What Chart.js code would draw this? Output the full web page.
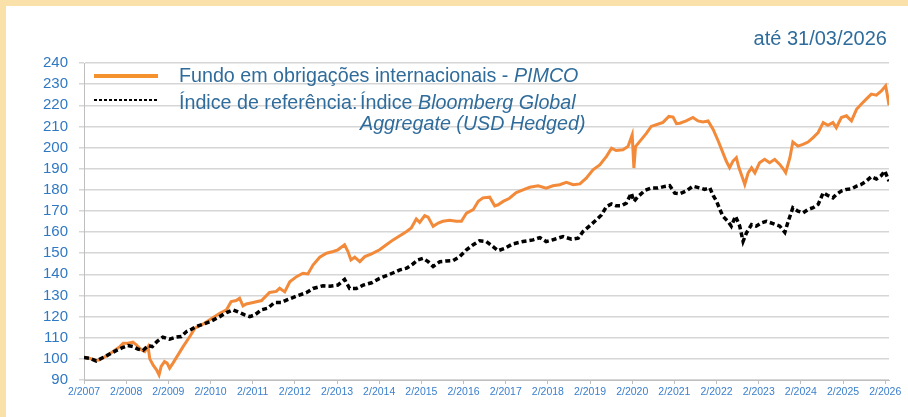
<!DOCTYPE html>
<html>
<head>
<meta charset="utf-8">
<script src="https://cdn.jsdelivr.net/npm/chart.js@4.4.1/dist/chart.umd.min.js"></script>
<style>
  body { margin: 0; width: 908px; height: 417px; background: #fae1aa; overflow: hidden; position: relative; font-family: Arial, "Liberation Sans", sans-serif; }
  #panel { position: absolute; left: 6px; top: 6px; right: 0; bottom: 0; background: #fff; }
  #chart { position: absolute; left: 0; top: 0; }
  .txt { position: absolute; color: #2f6c9b; font-size: 19.7px; line-height: 21px; white-space: nowrap; }
  #asof { right: 21px; top: 28px; font-size: 20px; }
  #sw1 { position: absolute; left: 94px; top: 74px; width: 64px; height: 4px; background: #f6922e; }
  #sw2 { position: absolute; left: 94px; top: 99px; width: 64px; height: 2px;
         background: repeating-linear-gradient(90deg, #000 0 3px, transparent 3px 5px); }
</style>
</head>
<body>
<div id="panel"></div>
<canvas id="chart" width="908" height="417"></canvas>
<div class="txt" id="asof">até 31/03/2026</div>
<div id="sw1"></div>
<div id="sw2"></div>
<div class="txt" style="left:179px; top:65px;">Fundo em obrigações internacionais - <i>PIMCO</i></div>
<div class="txt" style="left:179px; top:92px;">Índice de referência:</div>
<div class="txt" style="left:360px; top:92px;">Índice <i>Bloomberg Global</i><br><i>Aggregate (USD Hedged)</i></div>
<script>
// x = decimal year (2007.08 = 2/2007)
const fundDates = [
  2007.08, 2007.21, 2007.37, 2007.45, 2007.61, 2007.77, 2007.93,
  2008.01, 2008.12, 2008.24, 2008.32, 2008.44, 2008.52, 2008.60, 2008.64, 2008.72, 2008.80, 2008.86, 2008.91, 2008.99,
  2009.05, 2009.11, 2009.19, 2009.31, 2009.43, 2009.59, 2009.71, 2009.90,
  2010.08, 2010.30, 2010.46, 2010.57, 2010.69, 2010.77, 2010.85, 2010.93,
  2011.09, 2011.29, 2011.48, 2011.64, 2011.72, 2011.84, 2011.96,
  2012.12, 2012.27, 2012.39, 2012.51, 2012.67, 2012.83, 2012.99,
  2013.10, 2013.26, 2013.34, 2013.41, 2013.50, 2013.62, 2013.74, 2013.90,
  2014.09, 2014.25, 2014.41, 2014.57, 2014.73, 2014.84, 2014.96,
  2015.04, 2015.16, 2015.24, 2015.36, 2015.48, 2015.59, 2015.75, 2015.91,
  2016.03, 2016.15, 2016.31, 2016.43, 2016.54, 2016.70, 2016.82, 2016.90,
  2017.02, 2017.17, 2017.33, 2017.49, 2017.65, 2017.85,
  2018.04, 2018.20, 2018.36, 2018.52, 2018.68, 2018.84, 2018.99,
  2019.15, 2019.31, 2019.47, 2019.59, 2019.70, 2019.86, 2019.98,
  2020.08, 2020.12, 2020.16, 2020.26, 2020.42, 2020.53, 2020.65, 2020.81, 2020.95,
  2021.05, 2021.13, 2021.21, 2021.36, 2021.52, 2021.64, 2021.76, 2021.88,
  2022.00, 2022.12, 2022.23, 2022.31, 2022.39, 2022.47, 2022.55, 2022.61, 2022.71, 2022.75, 2022.83, 2022.91, 2022.99,
  2023.10, 2023.22, 2023.34, 2023.46, 2023.58, 2023.67, 2023.72, 2023.82, 2023.89,
  2024.01, 2024.13, 2024.25, 2024.37, 2024.49, 2024.61, 2024.72, 2024.84, 2024.92,
  2025.04, 2025.16, 2025.28, 2025.40, 2025.51, 2025.63, 2025.75, 2025.87, 2025.99,
  2026.09, 2026.12, 2026.17
]
const fundValues = [
  100.6, 100.3, 99.2, 99.5, 101.4, 103.5, 105.8,
  107.4, 107.4, 107.9, 106.6, 104.3, 103.5, 105.8, 100, 97, 94.8, 92.4, 96.4, 98.7,
  98, 95.6, 98, 101.9, 105.8, 110.6, 114.5, 116.4,
  118.8, 121.6, 123.2, 127.1, 127.6, 128.7, 125.1, 126,
  126.7, 127.6, 131.4, 131.9, 133.4, 131.7, 136.5,
  138.9, 140.5, 140.2, 144.4, 148.1, 150, 150.8,
  151.6, 154, 150.8, 146.8, 148.1, 146, 148.4, 149.7,
  151.6, 154, 156.3, 158.3, 160.3, 161.9, 166.2,
  164.6, 167.8, 167.1, 162.7, 164.3, 165.1, 165.6, 165.1,
  165.1, 169, 170.6, 174.6, 176.2, 176.5, 172.4, 172.9,
  174.5, 176, 178.7, 180, 181.2, 181.9,
  180.8, 181.9, 182.4, 183.5, 182.4, 182.8, 185.5,
  189.5, 191.8, 195.8, 199.7, 198.6, 198.9, 200.5,
  206, 190.3, 200.5, 202.9, 206.8, 210, 210.8, 211.9, 214.7,
  214.4, 211.3, 211.5, 212.6, 214.2, 212.6, 212.1, 212.6,
  208.6, 203.1, 197.6, 193.6, 190.5, 193.6, 195.2, 190.5, 184.9, 182.5, 188, 190.4, 188,
  192.8, 194.4, 192.8, 194.4, 192, 189.7, 188.1, 195.2, 202.6,
  200.7, 201.5, 202.6, 204.7, 207.1, 211.8, 210.5, 211.8, 209.4,
  214.2, 215, 212.6, 218.1, 220.5, 222.9, 225.3, 224.8, 226.8,
  229.2, 226, 220
]
const benchDates = [
  2007.08, 2007.21, 2007.37, 2007.61, 2007.85,
  2008.01, 2008.12, 2008.24, 2008.36, 2008.48, 2008.60, 2008.70, 2008.81, 2008.95,
  2009.11, 2009.27, 2009.39, 2009.51, 2009.63, 2009.74, 2009.90,
  2010.08, 2010.30, 2010.46, 2010.61, 2010.77, 2010.89,
  2011.01, 2011.13, 2011.29, 2011.44, 2011.60, 2011.76, 2011.88,
  2012.12, 2012.35, 2012.51, 2012.75, 2012.91,
  2013.10, 2013.26, 2013.38, 2013.54, 2013.70, 2013.90,
  2014.09, 2014.33, 2014.57, 2014.73, 2014.88,
  2015.00, 2015.12, 2015.24, 2015.36, 2015.52, 2015.67, 2015.83, 2015.99,
  2016.15, 2016.31, 2016.46, 2016.62, 2016.78, 2016.90,
  2017.06, 2017.25, 2017.49, 2017.73, 2017.89,
  2018.04, 2018.24, 2018.44, 2018.64, 2018.80, 2018.91,
  2019.07, 2019.23, 2019.35, 2019.47, 2019.59, 2019.70, 2019.82, 2019.94,
  2020.06, 2020.12, 2020.22, 2020.38, 2020.53, 2020.69, 2020.85, 2020.97,
  2021.09, 2021.21, 2021.36, 2021.52, 2021.68, 2021.80, 2021.92,
  2022.00, 2022.08, 2022.16, 2022.23, 2022.35, 2022.43, 2022.53, 2022.63, 2022.71, 2022.79, 2022.91,
  2023.02, 2023.14, 2023.26, 2023.42, 2023.58, 2023.70, 2023.78, 2023.89,
  2024.01, 2024.13, 2024.25, 2024.37, 2024.49, 2024.61, 2024.72, 2024.84, 2024.92,
  2025.04, 2025.16, 2025.28, 2025.40, 2025.51, 2025.63, 2025.75, 2025.87, 2025.99,
  2026.07, 2026.12, 2026.17
]
const benchValues = [
  100.6, 100.3, 99, 101.4, 104,
  105.5, 106.3, 105.8, 104.6, 104, 106.3, 105.8, 108.2, 110.3,
  109.3, 110.3, 110.6, 112.9, 114, 115.3, 116.4,
  117.7, 120, 121.9, 123.2, 121.9, 120.8,
  120, 120.8, 123.2, 124, 126.7, 126.7, 127.8,
  129.7, 131.3, 133.3, 134.6, 134.4,
  134.9, 137.6, 133.3, 133.3, 134.9, 136,
  138.1, 140, 142.1, 142.9, 144.9,
  146.8, 147.6, 146, 143.7, 146, 146.3, 146.5, 148.4,
  151.6, 154, 155.9, 155.5, 153.1, 151.2,
  152.3, 154.4, 155.5, 156.3, 157.4,
  155.5, 156.6, 157.9, 156.6, 157.1, 160.2,
  162.9, 165.8, 168.1, 172.1, 173.3, 172.4, 172.4, 173.7,
  178.4, 174.5, 176.8, 179.7, 180.8, 180.8, 181.6, 182,
  178.4, 178.1, 179.4, 181.7, 180.9, 180.2, 180.9,
  177.3, 174.6, 170.7, 167.5, 165.1, 162.8, 167.5, 162.8, 155.6, 159.6, 163.5,
  162.8, 164.3, 165.1, 164, 162.8, 159.9, 165.1, 171.5,
  169.9, 169.1, 170.7, 171.5, 173.1, 178.6, 177.3, 176.2, 177.8,
  179.4, 180.2, 180.5, 181.7, 182.5, 184.1, 186.2, 185.1, 186.8,
  188.9, 186.5, 184.1
]
const tickYears = [2007, 2008, 2009, 2010, 2011, 2012, 2013, 2014, 2015, 2016, 2017, 2018, 2019, 2020, 2021, 2022, 2023, 2024, 2025, 2026]

function toPoints(dates, values) {
  return dates.map((d, i) => ({ x: d, y: values[i] }))
}

Chart.defaults.font.family = 'Arial, "Liberation Sans", sans-serif'

new Chart(document.getElementById('chart'), {
  type: 'line',
  data: {
    datasets: [{
      label: 'Fundo em obrigações internacionais - PIMCO',
      data: toPoints(fundDates, fundValues),
      borderColor: '#f28a3a',
      borderWidth: 3,
      pointRadius: 0,
      tension: 0,
      order: 1
    }, {
      label: 'Índice de referência',
      data: toPoints(benchDates, benchValues),
      borderColor: '#000',
      borderWidth: 3.5,
      borderDash: [5, 3],
      pointRadius: 0,
      tension: 0,
      order: 0
    }]
  },
  options: {
    responsive: false,
    animation: false,
    layout: { padding: { left: 0, top: 63, right: 19, bottom: 0 } },
    plugins: { legend: { display: false }, tooltip: { enabled: false } },
    scales: {
      x: {
        type: 'linear',
        min: 2007.08,
        max: 2026.17,
        afterBuildTicks: (scale) => { scale.ticks = tickYears.map(y => ({ value: y + 0.08 })) },
        afterFit: (scale) => { scale.height = 37 },
        grid: { drawOnChartArea: false, drawTicks: true, tickLength: 4, tickColor: '#bfbfbf' },
        border: { color: '#bfbfbf', width: 1 },
        ticks: {
          color: '#3a7fcc',
          font: { size: 10.5 },
          padding: 2,
          maxRotation: 0,
          autoSkip: false,
          callback: (v) => '2/' + Math.round(v - 0.08)
        }
      },
      y: {
        min: 90,
        max: 240,
        afterFit: (scale) => { scale.width = 84 },
        grid: { color: '#d6d6d6', lineWidth: 1.5, tickLength: 5 },
        border: { color: '#bfbfbf', width: 1 },
        ticks: { stepSize: 10, color: '#2f78c4', font: { size: 15 }, padding: 11 }
      }
    }
  }
})
</script>
</body>
</html>
